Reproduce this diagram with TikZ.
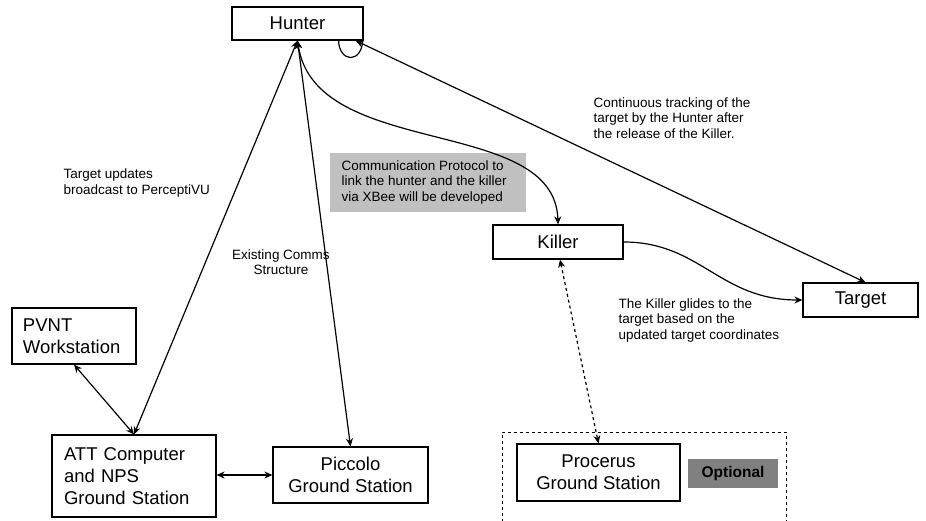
\documentclass[tikz,border=0pt]{standalone}
\usetikzlibrary{arrows.meta}
\usepackage{fontspec}
\setmainfont{Liberation Sans}
\newcommand{\bigtxt}{\fontsize{18.5}{22}\selectfont}
\newcommand{\smalltxt}{\fontsize{13.5}{15.5}\selectfont}
\definecolor{notegray}{HTML}{C0C0C0}
\definecolor{optgray}{HTML}{808080}
\begin{document}
\begin{tikzpicture}[x=1pt, y=-1pt,
  >={Stealth[length=8pt,width=7pt]},
  every path/.style={line width=1.2pt},
  box/.style={draw, line width=1.2pt, rectangle, inner sep=0pt, font=\bigtxt},
  cbox/.style={box, align=center},
  note/.style={inner sep=0pt, font=\smalltxt, align=left, anchor=west},
  link/.style={<->, line width=1.2pt},
]
\useasboundingbox (0,0) rectangle (926,520);

% main boxes
\node[cbox, minimum width=131pt, minimum height=33pt] (hunter) at (297.5,23.5) {Hunter};
\node[cbox, minimum width=130pt, minimum height=34pt] (killer) at (558,242) {Killer};
\node[cbox, minimum width=115pt, minimum height=34pt] (target) at (860.5,300) {Target};
\node[box, minimum width=124pt, minimum height=56pt, align=left, text width=102pt] (pvnt) at (74,336) {PVNT\\Workstation};
\node[box, minimum width=164pt, minimum height=82pt, align=left, text width=140pt] (att) at (134,476) {ATT Computer\\and NPS\\Ground Station};
\node[cbox, minimum width=155pt, minimum height=56pt] (piccolo) at (350.5,475) {Piccolo\\Ground Station};
\node[cbox, minimum width=163pt, minimum height=57pt] (procerus) at (598.5,472.5) {Procerus\\Ground Station};

% optional ground segment
\draw[dashed, line width=1pt] (502,540) -- (502,432) -- (786,432) -- (786,540);
\node[fill=optgray, minimum width=90pt, minimum height=29pt, inner sep=0pt,
      font=\fontsize{15.5}{18}\selectfont\bfseries] (optional) at (733,473.5) {Optional};

% shaded note
\node[fill=notegray, minimum width=196pt, minimum height=59pt, inner sep=0pt] (proto) at (428,182.5) {};
\node[note] (prototext) at (341,182.5) {Communication Protocol to\\link the hunter and the killer\\via XBee will be developed};

% text labels
\node[note] (updates) at (63,183) {Target updates\\broadcast to PerceptiVU};
\node[inner sep=0pt, font=\smalltxt, align=center] (comms) at (281,262) {Existing Comms\\Structure};
\node[note] (tracking) at (593,118) {Continuous tracking of the\\target by the Hunter after\\the release of the Killer.};
\node[note] (glides) at (618,320.5) {The Killer glides to the\\target based on the\\updated target coordinates};

% connectors
\draw[link] (hunter.south) -- (att.north);
\draw[link] (hunter.south) -- (piccolo.north);
\draw[link] (hunter.south) .. controls +(18,120) and +(-3,-110) .. (killer.north);
\draw[link] ([xshift=-8pt]hunter.south east) -- ([xshift=5pt]target.north);
\draw ([xshift=-25pt]hunter.south east) arc[start angle=180, end angle=0, x radius=12, y radius=17];
\draw[->] (killer.east) .. controls +(77,0) and +(-83,0) .. (target.west);
\draw[link] (pvnt.south) -- (att.north);
\draw[link] (att.east |- piccolo.center) -- (piccolo.west);
\draw[link, dashed] ([xshift=2pt]killer.south) -- (procerus.north);
\end{tikzpicture}
\end{document}
